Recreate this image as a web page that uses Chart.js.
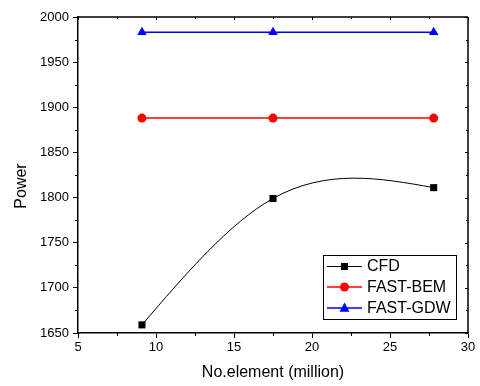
<!DOCTYPE html>
<html>
<head>
<meta charset="utf-8">
<script src="https://cdn.jsdelivr.net/npm/chart.js@4/dist/chart.umd.min.js"></script>
<style>
  html, body { margin: 0; padding: 0; background: #fff; }
  #wrap { width: 480px; height: 386px; }
</style>
</head>
<body>
<div id="wrap"><canvas id="c" width="480" height="386"></canvas></div>
<script>
// ---- Data ----
const xValues = [9.1, 17.5, 27.8];
const cfdValues = [1659, 1799, 1811];
const fastBemValues = [1888, 1888, 1888];
const fastGdwValues = [1983, 1983, 1983];
const seriesNames = ['CFD', 'FAST-BEM', 'FAST-GDW'];
const xTicks = [5, 10, 15, 20, 25, 30];
const yTicks = [1650, 1700, 1750, 1800, 1850, 1900, 1950, 2000];
const xTitle = 'No.element (million)';
const yTitle = 'Power';

const FONT = '"Liberation Sans", Arial, sans-serif';

function toPoints(xs, ys) { return xs.map((x, i) => ({ x: x, y: ys[i] })); }

// Natural cubic spline slopes at the knots (data space)
function naturalSplineSlopes(X, Y) {
  const n = X.length;
  const h = [];
  for (let i = 0; i < n - 1; i++) h.push(X[i + 1] - X[i]);
  const M = new Array(n).fill(0);
  if (n > 2) {
    const a = [], b = [], c = [], d = [];
    for (let i = 1; i < n - 1; i++) {
      a.push(h[i - 1]); b.push(2 * (h[i - 1] + h[i])); c.push(h[i]);
      d.push(6 * ((Y[i + 1] - Y[i]) / h[i] - (Y[i] - Y[i - 1]) / h[i - 1]));
    }
    const m = b.length;
    for (let i = 1; i < m; i++) {
      const w = a[i] / b[i - 1];
      b[i] -= w * c[i - 1];
      d[i] -= w * d[i - 1];
    }
    const sol = new Array(m);
    sol[m - 1] = d[m - 1] / b[m - 1];
    for (let i = m - 2; i >= 0; i--) sol[i] = (d[i] - c[i] * sol[i + 1]) / b[i];
    for (let i = 0; i < m; i++) M[i + 1] = sol[i];
  }
  const s = new Array(n);
  for (let i = 0; i < n - 1; i++) {
    const sec = (Y[i + 1] - Y[i]) / h[i];
    s[i] = sec - h[i] * (2 * M[i] + M[i + 1]) / 6;
    if (i === n - 2) s[i + 1] = sec + h[i] * (M[i] + 2 * M[i + 1]) / 6;
  }
  return s;
}

const splinePlugin = {
  id: 'naturalSpline',
  beforeDatasetDraw(chart, args) {
    if (args.index !== 0) return;
    const meta = args.meta;
    const pts = meta.data;
    const xs = chart.scales.x, ys = chart.scales.y;
    const X = xValues, Y = cfdValues;
    const s = naturalSplineSlopes(X, Y);
    for (let i = 0; i < X.length; i++) {
      pts[i].cp1x = pts[i].x; pts[i].cp1y = pts[i].y;
      pts[i].cp2x = pts[i].x; pts[i].cp2y = pts[i].y;
    }
    for (let i = 0; i < X.length - 1; i++) {
      const h = X[i + 1] - X[i];
      pts[i].cp2x = xs.getPixelForValue(X[i] + h / 3);
      pts[i].cp2y = ys.getPixelForValue(Y[i] + s[i] * h / 3);
      pts[i + 1].cp1x = xs.getPixelForValue(X[i + 1] - h / 3);
      pts[i + 1].cp1y = ys.getPixelForValue(Y[i + 1] - s[i + 1] * h / 3);
    }
    meta.dataset._pointsUpdated = true;
    meta.dataset._path = undefined;
  }
};

function drawMarker(ctx, style, x, y, r, color) {
  ctx.save();
  ctx.fillStyle = color;
  ctx.beginPath();
  if (style === 'rect') {
    const s = r * Math.SQRT1_2;
    ctx.rect(x - s, y - s, 2 * s, 2 * s);
  } else if (style === 'circle') {
    ctx.arc(x, y, r, 0, Math.PI * 2);
  } else if (style === 'triangle') {
    ctx.moveTo(x, y - r);
    ctx.lineTo(x + r * 0.91, y + r * 0.7);
    ctx.lineTo(x - r * 0.91, y + r * 0.7);
    ctx.closePath();
  }
  ctx.fill();
  ctx.restore();
}

const framePlugin = {
  id: 'frame',
  afterDraw(chart) {
    const ctx = chart.ctx;
    const a = chart.chartArea;
    const xs = chart.scales.x, ys = chart.scales.y;
    ctx.save();
    ctx.strokeStyle = '#000';
    ctx.lineWidth = 1.5;
    ctx.beginPath();
    ctx.moveTo(a.left, a.top); ctx.lineTo(a.right, a.top);
    ctx.moveTo(a.right, a.top); ctx.lineTo(a.right, a.bottom);
    ctx.stroke();
    // minor ticks (outward) and mirrored small ticks
    ctx.lineWidth = 1;
    ctx.beginPath();
    for (let i = 0; i < xTicks.length - 1; i++) {
      const v = (xTicks[i] + xTicks[i + 1]) / 2;
      const px = Math.round(xs.getPixelForValue(v)) + 0.5;
      ctx.moveTo(px, a.bottom); ctx.lineTo(px, a.bottom + 3);
      ctx.moveTo(px, a.top); ctx.lineTo(px, a.top + 2);
    }
    for (let i = 0; i < yTicks.length - 1; i++) {
      const v = (yTicks[i] + yTicks[i + 1]) / 2;
      const py = Math.round(ys.getPixelForValue(v)) + 0.5;
      ctx.moveTo(a.left, py); ctx.lineTo(a.left - 3, py);
      ctx.moveTo(a.right, py); ctx.lineTo(a.right - 2, py);
    }
    for (const v of xTicks) {
      const px = Math.round(xs.getPixelForValue(v)) + 0.5;
      ctx.moveTo(px, a.top); ctx.lineTo(px, a.top + 3);
    }
    for (const v of yTicks) {
      const py = Math.round(ys.getPixelForValue(v)) + 0.5;
      ctx.moveTo(a.right, py); ctx.lineTo(a.right - 3, py);
    }
    ctx.stroke();

    // axis titles
    ctx.fillStyle = '#000';
    ctx.font = '16px ' + FONT;
    ctx.textAlign = 'center';
    ctx.textBaseline = 'middle';
    ctx.fillText(xTitle, (a.left + a.right) / 2, 373);
    ctx.save();
    ctx.translate(22, 186);
    ctx.rotate(-Math.PI / 2);
    ctx.fillText(yTitle, 0, 0);
    ctx.restore();

    // legend
    const lx = 323, ly = 255, lw = 133, lh = 64;
    ctx.fillStyle = '#fff';
    ctx.fillRect(lx, ly, lw, lh);
    ctx.strokeStyle = '#000';
    ctx.lineWidth = 1;
    ctx.strokeRect(lx + 0.5, ly + 0.5, lw, lh);
    const rows = [266.5, 287, 308];
    chart.data.datasets.forEach((ds, i) => {
      const y = rows[i];
      ctx.strokeStyle = ds.borderColor;
      ctx.lineWidth = ds.borderWidth;
      ctx.beginPath();
      ctx.moveTo(327, y); ctx.lineTo(362, y);
      ctx.stroke();
      drawMarker(ctx, ds.pointStyle, 344.5, y, ds.pointRadius, ds.pointBackgroundColor);
      ctx.fillStyle = '#000';
      ctx.font = '16px ' + FONT;
      ctx.textAlign = 'left';
      ctx.textBaseline = 'middle';
      ctx.fillText(ds.label, 367, y + 0.5);
    });
    ctx.restore();
  }
};

new Chart(document.getElementById('c'), {
  type: 'line',
  data: {
    datasets: [
      {
        label: seriesNames[0],
        data: toPoints(xValues, cfdValues),
        borderColor: '#000000',
        backgroundColor: '#000000',
        pointBackgroundColor: '#000000',
        pointBorderColor: '#000000',
        borderWidth: 1,
        pointStyle: 'rect',
        pointRadius: 5,
        pointBorderWidth: 0,
        tension: 0.4,
        cubicInterpolationMode: 'default'
      },
      {
        label: seriesNames[1],
        data: toPoints(xValues, fastBemValues),
        borderColor: '#ff0000',
        backgroundColor: '#ff0000',
        pointBackgroundColor: '#ff0000',
        pointBorderColor: '#ff0000',
        borderWidth: 1.5,
        pointStyle: 'circle',
        pointRadius: 4.5,
        pointBorderWidth: 0,
        tension: 0
      },
      {
        label: seriesNames[2],
        data: toPoints(xValues, fastGdwValues),
        borderColor: '#0000ff',
        backgroundColor: '#0000ff',
        pointBackgroundColor: '#0000ff',
        pointBorderColor: '#0000ff',
        borderWidth: 1.5,
        pointStyle: 'triangle',
        pointRadius: 5.5,
        pointBorderWidth: 0,
        tension: 0
      }
    ]
  },
  options: {
    responsive: false,
    animation: false,
    layout: { padding: { top: 17, right: 12, left: 0, bottom: 0 } },
    plugins: { legend: { display: false }, tooltip: { enabled: false } },
    scales: {
      x: {
        type: 'linear',
        min: xTicks[0],
        max: xTicks[xTicks.length - 1],
        afterFit(scale) { scale.height = 53; },
        afterBuildTicks(scale) { scale.ticks = xTicks.map(v => ({ value: v })); },
        ticks: { color: '#000', font: { family: FONT, size: 13 }, padding: 2, maxRotation: 0, autoSkip: false,
                 callback: v => String(v) },
        grid: { display: true, drawOnChartArea: false, drawTicks: true, tickLength: 5, color: '#000', lineWidth: 1 },
        border: { display: true, color: '#000', width: 1.5 }
      },
      y: {
        type: 'linear',
        min: yTicks[0],
        max: yTicks[yTicks.length - 1],
        afterFit(scale) { scale.width = 78; },
        afterBuildTicks(scale) { scale.ticks = yTicks.map(v => ({ value: v })); },
        ticks: { color: '#000', font: { family: FONT, size: 13 }, padding: 4, autoSkip: false,
                 callback: v => String(v) },
        grid: { display: true, drawOnChartArea: false, drawTicks: true, tickLength: 5, color: '#000', lineWidth: 1 },
        border: { display: true, color: '#000', width: 1.5 }
      }
    }
  },
  plugins: [splinePlugin, framePlugin]
});
</script>
</body>
</html>
